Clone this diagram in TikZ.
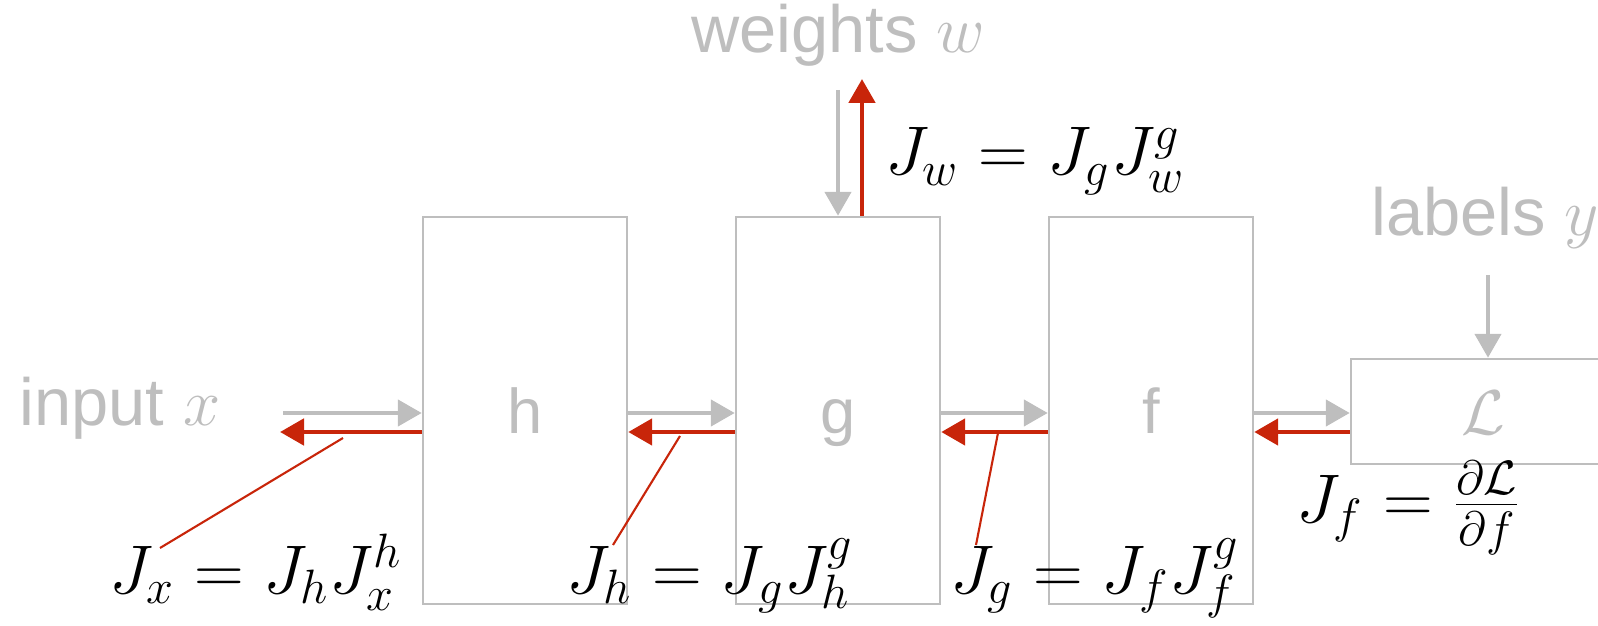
\RequirePackage{fix-cm}
\documentclass[tikz,border=0pt]{standalone}
\usepackage{fontspec}
\setsansfont{Liberation Sans}
\usetikzlibrary{arrows.meta, positioning}

\definecolor{fadegray}{RGB}{190,190,190}
\definecolor{backred}{RGB}{200,37,10}

\tikzset{
    block/.style={draw=fadegray, line width=0.7pt, minimum width=2.04cm, minimum height=3.87cm,
        text=fadegray, font=\sffamily\fontsize{18}{22}\selectfont, text height=0.46cm, text depth=0cm},
    graytext/.style={text=fadegray, font=\sffamily\fontsize{19}{22}\selectfont, inner sep=0, anchor=base},
    jac/.style={font=\fontsize{19.6}{24}\selectfont, inner sep=0, anchor=base west},
    fwd/.style={draw=fadegray, line width=1.3pt, -{Triangle[length=2.4mm, width=2.6mm]}},
    bwd/.style={draw=backred, line width=1.4pt, -{Triangle[length=2.4mm, width=2.6mm]}},
    pointer/.style={draw=backred, line width=0.6pt}
}

\begin{document}
\begin{tikzpicture}
    \useasboundingbox (0, 0) rectangle (15.98, 6.26);

    \node[block] (h) at (5.25, 2.155) {h};
    \node[block] (g) at (8.38, 2.155) {g};
    \node[block] (f) at (11.51, 2.155) {f};
    \node[block, minimum width=2.64cm, minimum height=1.05cm] (loss) at (14.83, 2.145) {$\mathcal{L}$};

    \node[graytext] (input) at (1.20, 2.0) {input $x$};
    \node[graytext] (weights) at (8.38, 5.73) {weights $w$};
    \node[graytext] (labels) at (14.85, 3.90) {labels $y$};

    \coordinate (xin) at (2.83, 2.13);
    \coordinate (xout) at (2.80, 1.94);
    \coordinate (win) at (8.38, 5.36);
    \coordinate (wout) at (8.62, 5.47);
    \coordinate (yin) at (14.88, 3.51);

    \draw[fwd] (xin) -- (xin -| h.west);
    \draw[fwd] (h.east |- xin) -- (g.west |- xin);
    \draw[fwd] (g.east |- xin) -- (f.west |- xin);
    \draw[fwd] (f.east |- xin) -- (loss.west |- xin);
    \draw[fwd] (win) -- (win |- g.north);
    \draw[fwd] (yin) -- (yin |- loss.north);

    \draw[bwd] (loss.west |- xout) -- (f.east |- xout);
    \draw[bwd] (f.west |- xout) -- (g.east |- xout);
    \draw[bwd] (g.west |- xout) -- (h.east |- xout);
    \draw[bwd] (h.west |- xout) -- (xout);
    \draw[bwd] (wout |- g.north) -- (wout);

    \node[jac] (jw) at (8.85, 4.51) {$J_w = J_g J_w^g$};
    \node[jac] (jx) at (1.09, 0.33) {$J_x = J_h J_x^h$};
    \node[jac] (jh) at (5.66, 0.33) {$J_h = J_g J_h^g$};
    \node[jac] (jg) at (9.50, 0.33) {$J_g = J_f J_f^g$};
    \node[jac] (jf) at (12.96, 1.04) {$J_f = \frac{\partial\mathcal{L}}{\partial f}$};

    \coordinate (px) at (3.43, 1.88);
    \coordinate (ph) at (6.80, 1.90);
    \coordinate (pg) at (9.98, 1.93);

    \draw[pointer] ([shift={(0.51, 0.45)}]jx.base west) -- (px);
    \draw[pointer] ([shift={(0.47, 0.48)}]jh.base west) -- (ph);
    \draw[pointer] ([shift={(0.26, 0.48)}]jg.base west) -- (pg);
\end{tikzpicture}
\end{document}
